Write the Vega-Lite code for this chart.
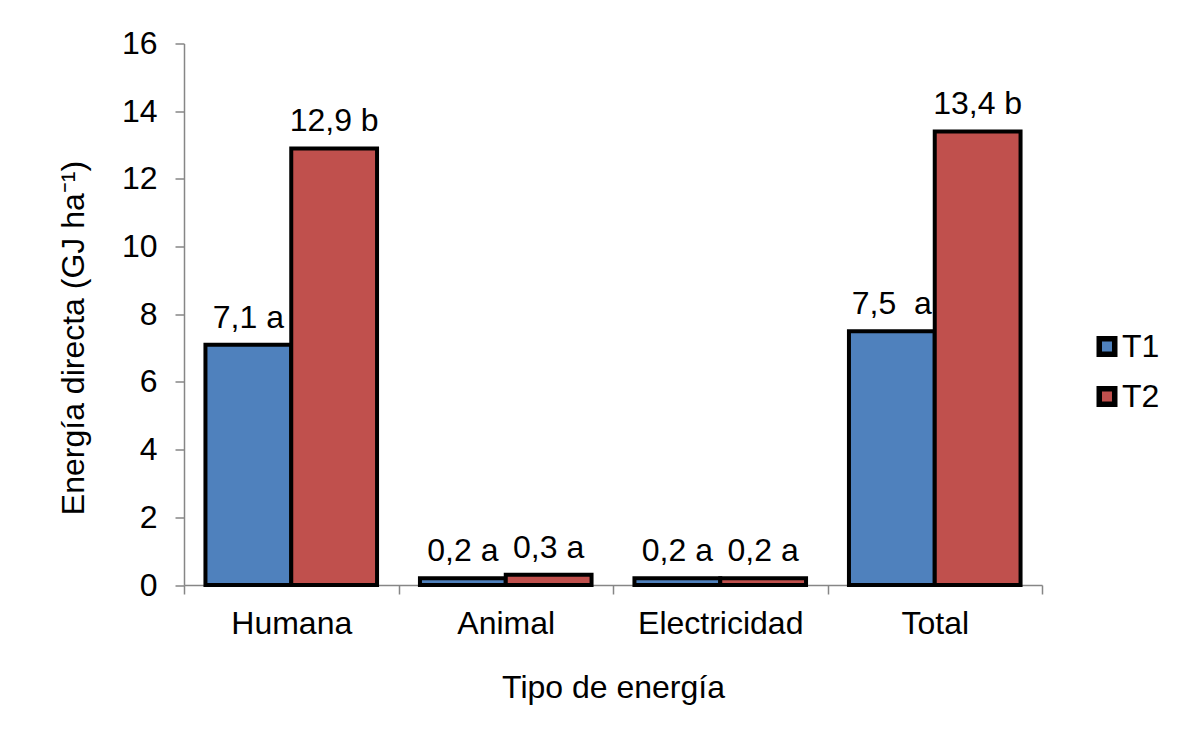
{
  "$schema": "https://vega.github.io/schema/vega-lite/v6.json",
  "width": 858,
  "height": 541.5,
  "autosize": "none",
  "padding": {"left": 184, "top": 43.5, "right": 144, "bottom": 145},
  "background": "white",
  "config": {
    "font": "Liberation Sans",
    "view": {"stroke": null},
    "axis": {
      "domainColor": "#868686",
      "domainWidth": 1.5,
      "tickColor": "#868686",
      "tickWidth": 1.5,
      "tickSize": 9,
      "grid": false,
      "labelFont": "Liberation Sans",
      "labelFontSize": 32,
      "labelColor": "black",
      "titleFont": "Liberation Sans",
      "titleFontSize": 32,
      "titleFontWeight": "normal",
      "titleColor": "black"
    },
    "legend": {
      "labelFont": "Liberation Sans",
      "labelFontSize": 32,
      "labelColor": "black"
    }
  },
  "data": {
    "values": [
      {"tipo": "Humana", "trat": "T1", "valor": 7.1, "etiqueta": "7,1 a"},
      {"tipo": "Humana", "trat": "T2", "valor": 12.9, "etiqueta": "12,9 b"},
      {"tipo": "Animal", "trat": "T1", "valor": 0.2, "etiqueta": "0,2 a"},
      {"tipo": "Animal", "trat": "T2", "valor": 0.3, "etiqueta": "0,3 a"},
      {"tipo": "Electricidad", "trat": "T1", "valor": 0.2, "etiqueta": "0,2 a"},
      {"tipo": "Electricidad", "trat": "T2", "valor": 0.2, "etiqueta": "0,2 a"},
      {"tipo": "Total", "trat": "T1", "valor": 7.5, "etiqueta": "7,5\u00a0 a"},
      {"tipo": "Total", "trat": "T2", "valor": 13.4, "etiqueta": "13,4 b"}
    ]
  },
  "encoding": {
    "x": {
      "field": "tipo",
      "type": "nominal",
      "sort": ["Humana", "Animal", "Electricidad", "Total"],
      "scale": {"paddingInner": 0, "paddingOuter": 0},
      "title": "Tipo de energía",
      "axis": {
        "labelAngle": 0,
        "tickBand": "extent",
        "labelPadding": 14,
        "titlePadding": 33
      }
    },
    "xOffset": {
      "field": "trat",
      "type": "nominal",
      "scale": {"paddingInner": 0, "paddingOuter": 0.25}
    },
    "y": {
      "field": "valor",
      "type": "quantitative",
      "scale": {"domain": [0, 16], "nice": false},
      "title": "Energía directa (GJ ha⁻¹)",
      "axis": {
        "values": [0, 2, 4, 6, 8, 10, 12, 14, 16],
        "labelPadding": 18,
        "titlePadding": 31,
        "titleY": 294
      }
    }
  },
  "layer": [
    {
      "mark": {"type": "bar", "stroke": "black", "strokeWidth": 4},
      "encoding": {
        "color": {
          "field": "trat",
          "type": "nominal",
          "scale": {"domain": ["T1", "T2"], "range": ["#4F81BD", "#C0504D"]},
          "legend": {
            "title": null,
            "orient": "none",
            "legendX": 907,
            "legendY": 287,
            "padding": 0,
            "symbolType": "square",
            "symbolSize": 240,
            "symbolStrokeWidth": 5.5,
            "symbolStrokeColor": "black",
            "labelOffset": -1,
            "rowPadding": 12
          }
        }
      }
    },
    {
      "mark": {
        "type": "text",
        "baseline": "alphabetic",
        "dy": -17,
        "fontSize": 32,
        "font": "Liberation Sans",
        "color": "black"
      },
      "encoding": {"text": {"field": "etiqueta"}}
    }
  ]
}
